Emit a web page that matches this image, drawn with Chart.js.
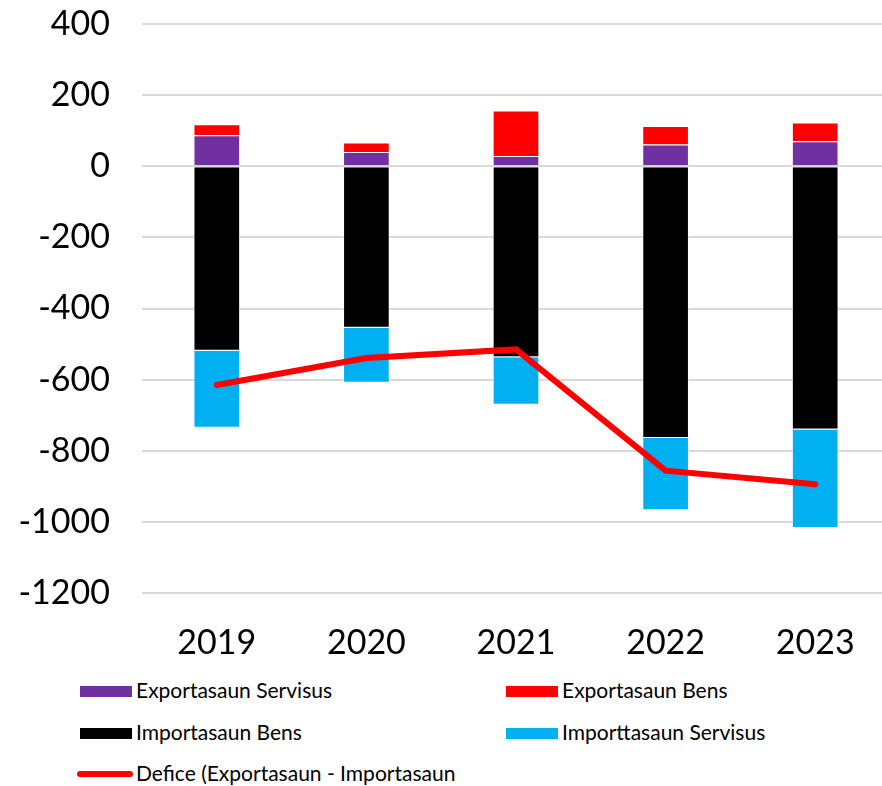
<!DOCTYPE html>
<html>
<head>
<meta charset="utf-8">
<script src="https://cdn.jsdelivr.net/npm/chart.js@4"></script>
<style>
  html, body { margin: 0; padding: 0; background: #fff; overflow: hidden; }
  #wrap { position: relative; width: 882px; height: 786px; overflow: hidden; }
  #box { position: absolute; left: 0; top: 0; width: 890px; height: 670px; }
  .leg { position: absolute; font-family: Lato, sans-serif; font-size: 21px; color: #000; white-space: nowrap; line-height: 22px; }
  .sw { position: absolute; width: 52px; height: 11px; }
  .ln { position: absolute; width: 56px; height: 6px; border-radius: 3px; background: #ff0000; }
</style>
</head>
<body>
<div id="wrap">
  <div id="box"><canvas id="myChart"></canvas></div>
  <div id="legend"></div>
</div>
<script>
const years = ['2019', '2020', '2021', '2022', '2023'];
const exportServisus = [87, 40, 29, 61, 70];
const exportBens = [31, 27, 128, 52, 53];
const importBens = [-519, -454, -537, -764, -740];
const importServisus = [-216, -155, -134, -203, -277];
const defice = [-615, -539, -515, -856, -894];

// Legend entries (two columns, drawn as html)
const legendItems = [
    { label: 'Exportasaun Servisus', color: '#7030a0', x: 80, y: 691, type: 'box' },
    { label: 'Exportasaun Bens', color: '#ff0000', x: 506, y: 691, type: 'box' },
    { label: 'Importasaun Bens', color: '#000000', x: 80, y: 733, type: 'box' },
    { label: 'Importtasaun Servisus', color: '#00b0f0', x: 506, y: 733, type: 'box' },
    { label: 'Defice (Exportasaun - Importasaun', color: '#ff0000', x: 77, y: 774, type: 'line' }
];

const legendEl = document.getElementById('legend');
legendItems.forEach(item => {
    const mark = document.createElement('div');
    if (item.type === 'box') {
        mark.className = 'sw';
        mark.style.left = item.x + 'px';
        mark.style.top = (item.y - 5) + 'px';
        mark.style.background = item.color;
    } else {
        mark.className = 'ln';
        mark.style.left = item.x + 'px';
        mark.style.top = (item.y - 3) + 'px';
    }
    legendEl.appendChild(mark);

    const txt = document.createElement('div');
    txt.className = 'leg';
    txt.textContent = item.label;
    txt.style.left = (item.type === 'box' ? item.x + 56 : item.x + 59) + 'px';
    txt.style.top = (item.y - 12) + 'px';
    legendEl.appendChild(txt);
});

const ctx = document.getElementById('myChart').getContext('2d');
new Chart(ctx, {
    type: 'bar',
    data: {
        labels: years,
        datasets: [
            {
                type: 'line',
                label: 'Defice (Exportasaun - Importasaun',
                data: defice,
                borderColor: '#ff0000',
                borderWidth: 6,
                borderCapStyle: 'round',
                borderJoinStyle: 'miter',
                pointRadius: 0,
                tension: 0,
                fill: false,
                order: 0
            },
            {
                label: 'Exportasaun Servisus',
                data: exportServisus,
                backgroundColor: '#7030a0',
                borderColor: 'rgba(255,255,255,0.5)',
                borderWidth: 1,
                stack: 's',
                order: 1
            },
            {
                label: 'Exportasaun Bens',
                data: exportBens,
                backgroundColor: '#ff0000',
                borderColor: 'rgba(255,255,255,0.5)',
                borderWidth: 1,
                stack: 's',
                order: 1
            },
            {
                label: 'Importasaun Bens',
                data: importBens,
                backgroundColor: '#000000',
                borderColor: 'rgba(255,255,255,0.5)',
                borderWidth: 1,
                stack: 's',
                order: 1
            },
            {
                label: 'Importtasaun Servisus',
                data: importServisus,
                backgroundColor: '#00b0f0',
                borderColor: 'rgba(255,255,255,0.5)',
                borderWidth: 1,
                stack: 's',
                order: 1
            }
        ]
    },
    options: {
        responsive: true,
        maintainAspectRatio: false,
        animation: false,
        layout: { padding: { top: 24, right: 0, bottom: 15, left: 0 } },
        datasets: {
            bar: { barPercentage: 0.624, categoryPercentage: 0.5 }
        },
        plugins: {
            legend: { display: false },
            tooltip: { enabled: false }
        },
        scales: {
            x: {
                stacked: true,
                grid: { display: false },
                border: { display: false },
                ticks: {
                    color: '#000',
                    padding: 22,
                    font: { family: 'Lato', size: 34 }
                },
                afterFit: scale => { scale.height = 62; }
            },
            y: {
                stacked: true,
                min: -1200,
                max: 400,
                grid: {
                    color: '#d9d9d9',
                    lineWidth: 2,
                    drawTicks: true,
                    tickLength: 32,
                    tickColor: 'rgba(0,0,0,0)'
                },
                border: { display: false },
                ticks: {
                    stepSize: 200,
                    color: '#000',
                    padding: 0,
                    font: { family: 'Lato', size: 34 },
                    callback: value => String(value)
                },
                afterFit: scale => { scale.width = 142; }
            }
        }
    }
});
</script>
</body>
</html>
